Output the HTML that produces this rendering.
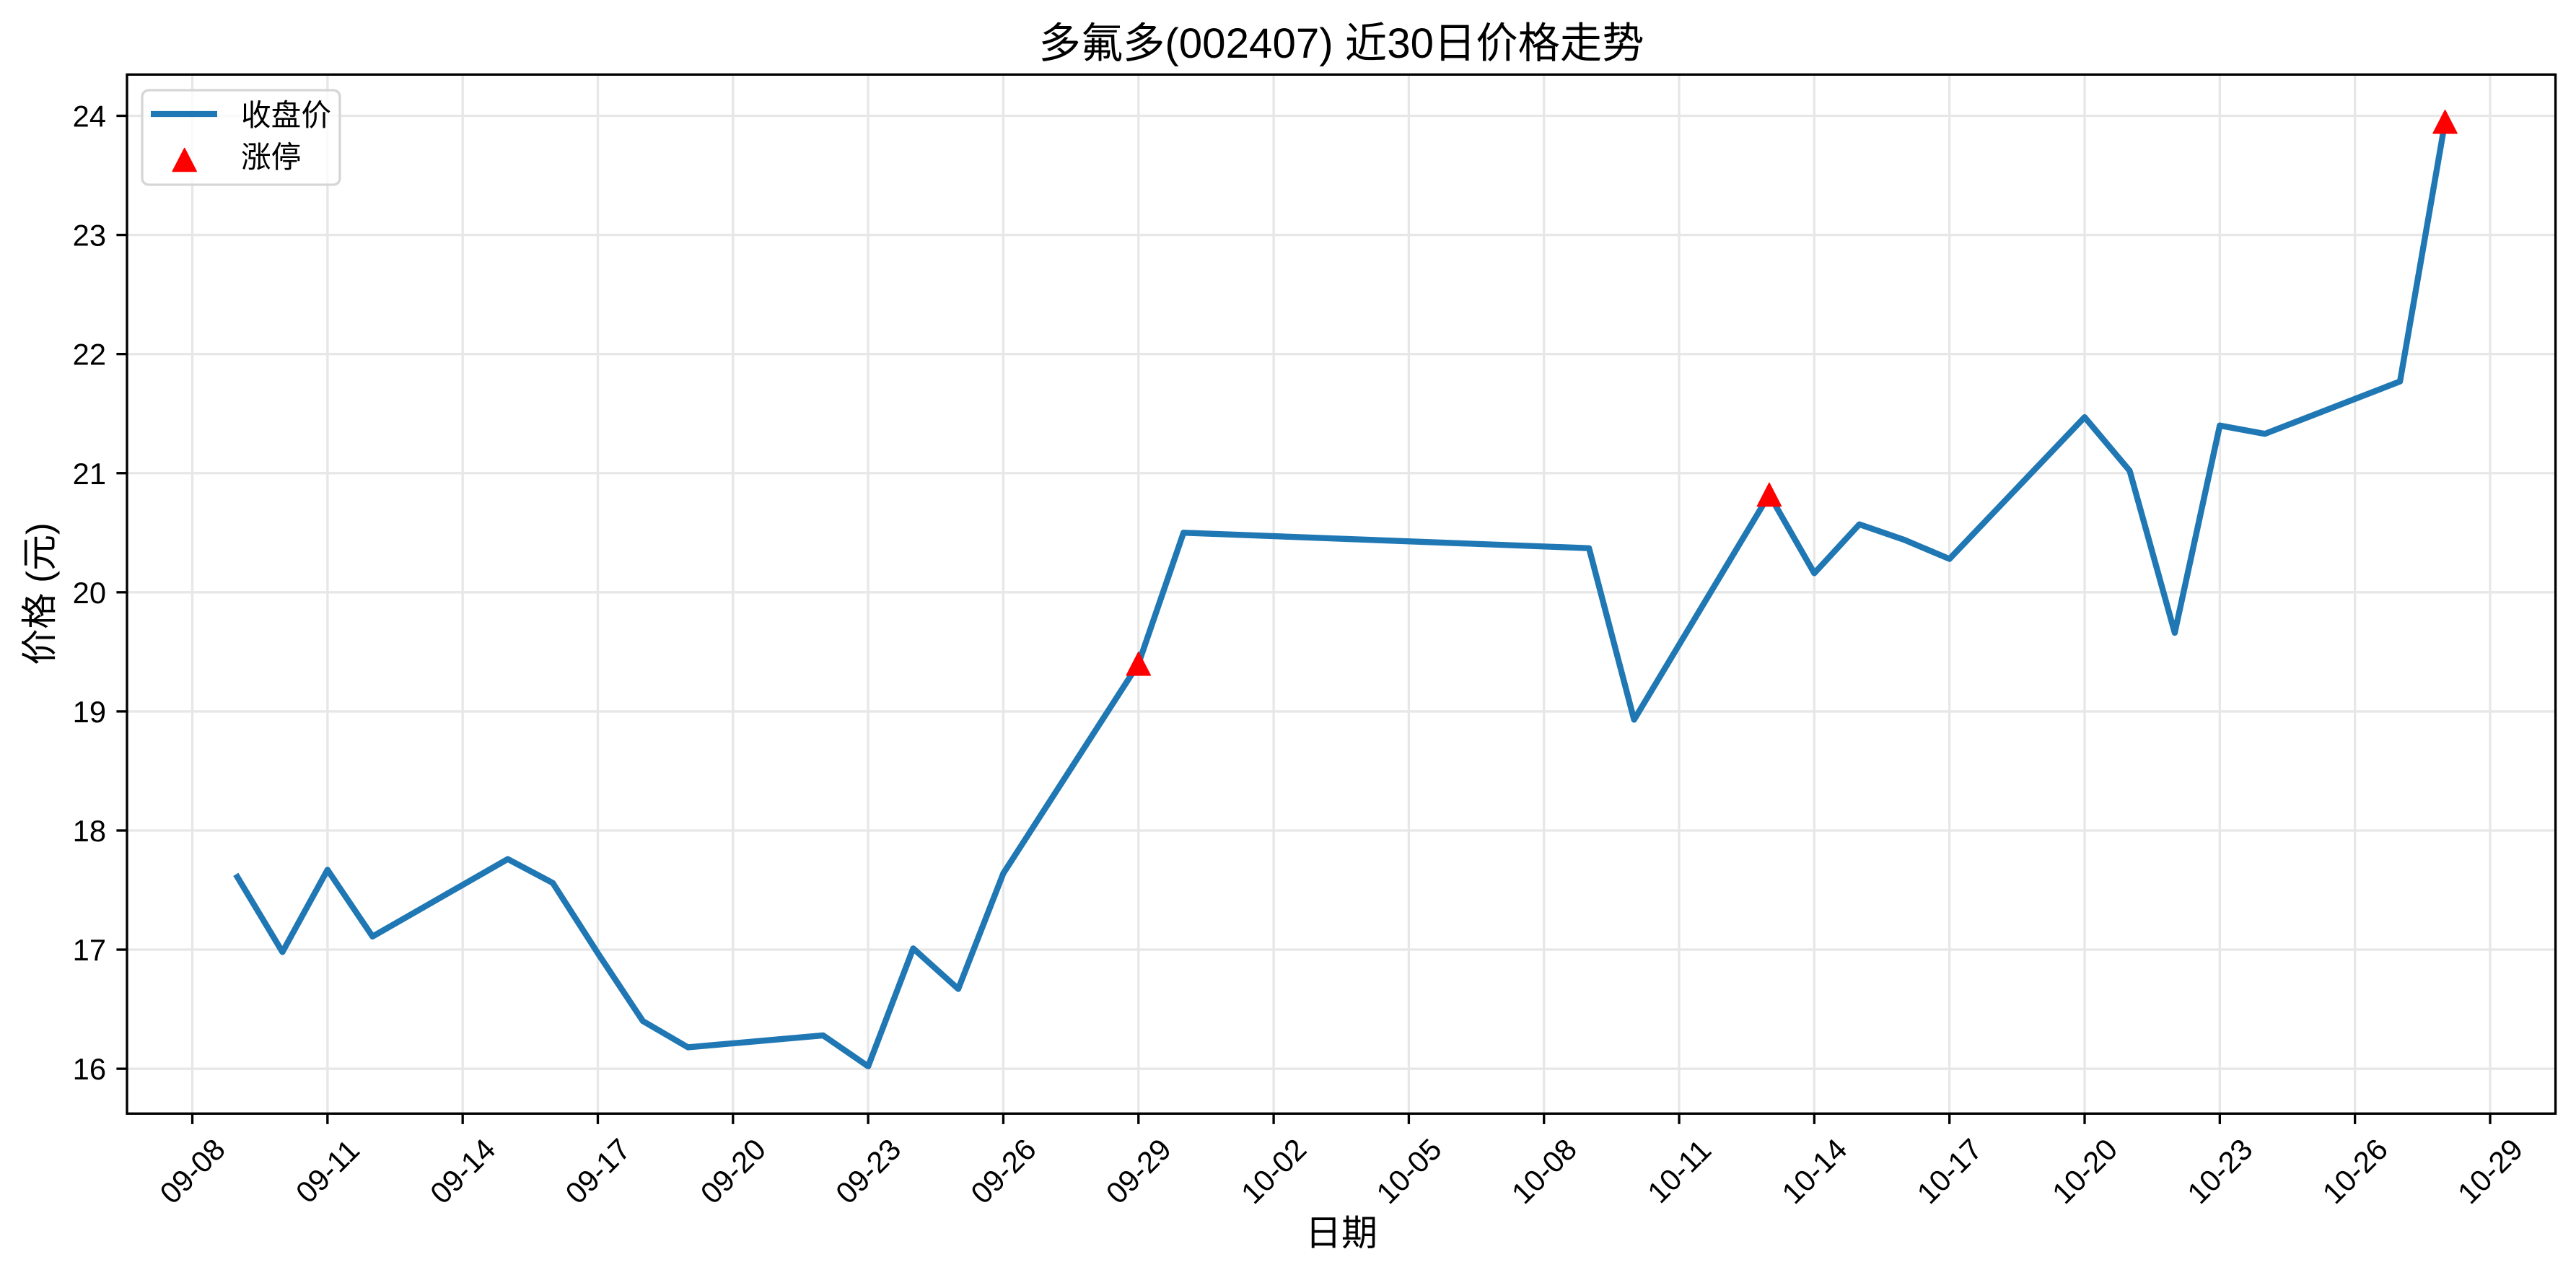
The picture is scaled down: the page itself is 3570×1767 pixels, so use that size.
<!DOCTYPE html>
<html>
<head>
<meta charset="utf-8">
<style>
html,body{margin:0;padding:0;background:#fff;}
svg{display:block;}
text{font-family:"Liberation Sans","Noto Sans CJK SC",sans-serif;fill:#000;}
</style>
</head>
<body>
<svg xmlns="http://www.w3.org/2000/svg" width="3570" height="1767" viewBox="0 0 3570 1767">
<rect x="0" y="0" width="3570" height="1767" fill="#ffffff"/>

<!-- grid -->
<g stroke="#e7e7e7" stroke-width="3.33" fill="none">
  <line x1="266.54" y1="103.3" x2="266.54" y2="1543.3"/>
  <line x1="453.86" y1="103.3" x2="453.86" y2="1543.3"/>
  <line x1="641.18" y1="103.3" x2="641.18" y2="1543.3"/>
  <line x1="828.50" y1="103.3" x2="828.50" y2="1543.3"/>
  <line x1="1015.82" y1="103.3" x2="1015.82" y2="1543.3"/>
  <line x1="1203.14" y1="103.3" x2="1203.14" y2="1543.3"/>
  <line x1="1390.46" y1="103.3" x2="1390.46" y2="1543.3"/>
  <line x1="1577.78" y1="103.3" x2="1577.78" y2="1543.3"/>
  <line x1="1765.10" y1="103.3" x2="1765.10" y2="1543.3"/>
  <line x1="1952.42" y1="103.3" x2="1952.42" y2="1543.3"/>
  <line x1="2139.74" y1="103.3" x2="2139.74" y2="1543.3"/>
  <line x1="2327.06" y1="103.3" x2="2327.06" y2="1543.3"/>
  <line x1="2514.38" y1="103.3" x2="2514.38" y2="1543.3"/>
  <line x1="2701.70" y1="103.3" x2="2701.70" y2="1543.3"/>
  <line x1="2889.02" y1="103.3" x2="2889.02" y2="1543.3"/>
  <line x1="3076.34" y1="103.3" x2="3076.34" y2="1543.3"/>
  <line x1="3263.66" y1="103.3" x2="3263.66" y2="1543.3"/>
  <line x1="3450.98" y1="103.3" x2="3450.98" y2="1543.3"/>

  <line x1="176" y1="1481.15" x2="3541.6" y2="1481.15"/>
  <line x1="176" y1="1316.07" x2="3541.6" y2="1316.07"/>
  <line x1="176" y1="1150.99" x2="3541.6" y2="1150.99"/>
  <line x1="176" y1="985.91" x2="3541.6" y2="985.91"/>
  <line x1="176" y1="820.83" x2="3541.6" y2="820.83"/>
  <line x1="176" y1="655.75" x2="3541.6" y2="655.75"/>
  <line x1="176" y1="490.67" x2="3541.6" y2="490.67"/>
  <line x1="176" y1="325.59" x2="3541.6" y2="325.59"/>
  <line x1="176" y1="160.51" x2="3541.6" y2="160.51"/>
</g>

<!-- price line -->
<polyline fill="none" stroke="#1f77b4" stroke-width="8.33" stroke-linejoin="round" stroke-linecap="square"
 points="328.98,1215.37 391.42,1319.37 453.86,1205.46 516.30,1297.91 703.62,1190.61 766.06,1223.62 828.50,1321.02 890.94,1415.11 953.38,1451.43 1140.70,1434.92 1203.14,1477.85 1265.58,1314.42 1328.02,1370.54 1390.46,1210.42 1577.78,919.88 1640.22,738.29 2202.18,759.75 2264.62,997.46 2451.94,685.46 2514.38,794.41 2576.82,726.73 2639.26,748.19 2701.70,774.60 2889.02,578.16 2951.46,652.45 3013.90,876.95 3076.34,589.72 3138.78,601.27 3326.10,528.64 3388.54,168.76"/>

<!-- limit-up markers -->
<g fill="#ff0000" stroke="#ff0000" stroke-width="1.5" stroke-linejoin="round">
  <polygon points="1577.78,903.88 1561.28,935.88 1594.28,935.88"/>
  <polygon points="2451.94,669.46 2435.44,701.46 2468.44,701.46"/>
  <polygon points="3388.54,152.76 3372.04,184.76 3405.04,184.76"/>
</g>

<!-- spines -->
<rect x="176" y="103.3" width="3365.6" height="1440" fill="none" stroke="#000" stroke-width="3.33"/>

<!-- y ticks -->
<g stroke="#000" stroke-width="3.33">
  <line x1="161.4" y1="1481.15" x2="176" y2="1481.15"/>
  <line x1="161.4" y1="1316.07" x2="176" y2="1316.07"/>
  <line x1="161.4" y1="1150.99" x2="176" y2="1150.99"/>
  <line x1="161.4" y1="985.91" x2="176" y2="985.91"/>
  <line x1="161.4" y1="820.83" x2="176" y2="820.83"/>
  <line x1="161.4" y1="655.75" x2="176" y2="655.75"/>
  <line x1="161.4" y1="490.67" x2="176" y2="490.67"/>
  <line x1="161.4" y1="325.59" x2="176" y2="325.59"/>
  <line x1="161.4" y1="160.51" x2="176" y2="160.51"/>
</g>
<g font-size="41.67" text-anchor="end">
  <text x="147" y="1496.15">16</text>
  <text x="147" y="1331.07">17</text>
  <text x="147" y="1165.99">18</text>
  <text x="147" y="1000.91">19</text>
  <text x="147" y="835.83">20</text>
  <text x="147" y="670.75">21</text>
  <text x="147" y="505.67">22</text>
  <text x="147" y="340.59">23</text>
  <text x="147" y="175.51">24</text>
</g>

<!-- x ticks -->
<g stroke="#000" stroke-width="3.33">
  <line x1="266.54" y1="1543.3" x2="266.54" y2="1557.9"/>
  <line x1="453.86" y1="1543.3" x2="453.86" y2="1557.9"/>
  <line x1="641.18" y1="1543.3" x2="641.18" y2="1557.9"/>
  <line x1="828.50" y1="1543.3" x2="828.50" y2="1557.9"/>
  <line x1="1015.82" y1="1543.3" x2="1015.82" y2="1557.9"/>
  <line x1="1203.14" y1="1543.3" x2="1203.14" y2="1557.9"/>
  <line x1="1390.46" y1="1543.3" x2="1390.46" y2="1557.9"/>
  <line x1="1577.78" y1="1543.3" x2="1577.78" y2="1557.9"/>
  <line x1="1765.10" y1="1543.3" x2="1765.10" y2="1557.9"/>
  <line x1="1952.42" y1="1543.3" x2="1952.42" y2="1557.9"/>
  <line x1="2139.74" y1="1543.3" x2="2139.74" y2="1557.9"/>
  <line x1="2327.06" y1="1543.3" x2="2327.06" y2="1557.9"/>
  <line x1="2514.38" y1="1543.3" x2="2514.38" y2="1557.9"/>
  <line x1="2701.70" y1="1543.3" x2="2701.70" y2="1557.9"/>
  <line x1="2889.02" y1="1543.3" x2="2889.02" y2="1557.9"/>
  <line x1="3076.34" y1="1543.3" x2="3076.34" y2="1557.9"/>
  <line x1="3263.66" y1="1543.3" x2="3263.66" y2="1557.9"/>
  <line x1="3450.98" y1="1543.3" x2="3450.98" y2="1557.9"/>
</g>
<g font-size="41.67" text-anchor="middle" dominant-baseline="central">
  <text x="266.54" y="1623" transform="rotate(-45 266.54 1623)">09-08</text>
  <text x="453.86" y="1623" transform="rotate(-45 453.86 1623)">09-11</text>
  <text x="641.18" y="1623" transform="rotate(-45 641.18 1623)">09-14</text>
  <text x="828.50" y="1623" transform="rotate(-45 828.50 1623)">09-17</text>
  <text x="1015.82" y="1623" transform="rotate(-45 1015.82 1623)">09-20</text>
  <text x="1203.14" y="1623" transform="rotate(-45 1203.14 1623)">09-23</text>
  <text x="1390.46" y="1623" transform="rotate(-45 1390.46 1623)">09-26</text>
  <text x="1577.78" y="1623" transform="rotate(-45 1577.78 1623)">09-29</text>
  <text x="1765.10" y="1623" transform="rotate(-45 1765.10 1623)">10-02</text>
  <text x="1952.42" y="1623" transform="rotate(-45 1952.42 1623)">10-05</text>
  <text x="2139.74" y="1623" transform="rotate(-45 2139.74 1623)">10-08</text>
  <text x="2327.06" y="1623" transform="rotate(-45 2327.06 1623)">10-11</text>
  <text x="2514.38" y="1623" transform="rotate(-45 2514.38 1623)">10-14</text>
  <text x="2701.70" y="1623" transform="rotate(-45 2701.70 1623)">10-17</text>
  <text x="2889.02" y="1623" transform="rotate(-45 2889.02 1623)">10-20</text>
  <text x="3076.34" y="1623" transform="rotate(-45 3076.34 1623)">10-23</text>
  <text x="3263.66" y="1623" transform="rotate(-45 3263.66 1623)">10-26</text>
  <text x="3450.98" y="1623" transform="rotate(-45 3450.98 1623)">10-29</text>
</g>

<!-- legend -->
<rect x="197" y="125" width="274" height="131" rx="9" ry="9" fill="#ffffff" fill-opacity="0.8" stroke="#d6d6d6" stroke-width="3.33"/>
<line x1="209" y1="158" x2="301" y2="158" stroke="#1f77b4" stroke-width="8.33" stroke-linecap="butt"/>
<polygon points="255.7,205.5 239.2,237.5 272.2,237.5" fill="#ff0000" stroke="#ff0000" stroke-width="1.5" stroke-linejoin="round"/>
<text x="334" y="174" font-size="41.67">收盘价</text>
<text x="334" y="232" font-size="41.67">涨停</text>

<!-- title and axis labels -->
<text x="1859" y="80" font-size="58.3" text-anchor="middle">多氟多(002407) 近30日价格走势</text>
<text x="1859" y="1726" font-size="50" text-anchor="middle">日期</text>
<text x="55" y="823" font-size="50" text-anchor="middle" dominant-baseline="central" transform="rotate(-90 55 823)">价格 (元)</text>
</svg>
</body>
</html>
